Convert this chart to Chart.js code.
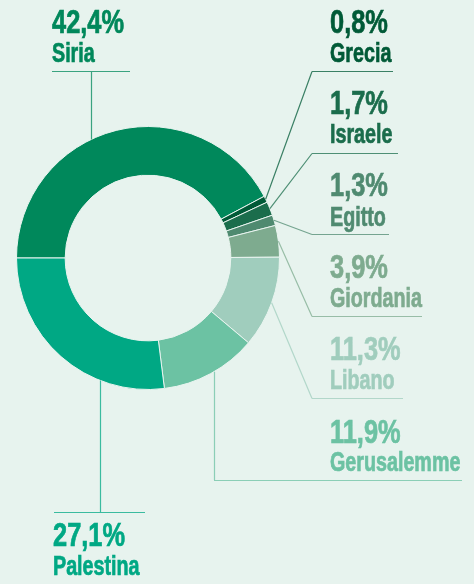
<!DOCTYPE html>
<html>
<head>
<meta charset="utf-8">
<script src="https://cdn.jsdelivr.net/npm/chart.js@4/dist/chart.umd.min.js"></script>
<style>
  html, body { margin: 0; padding: 0; background: #e7f3ee; }
  #chart { display: block; }
</style>
</head>
<body>
<canvas id="chart" width="474" height="584"></canvas>
<script>
const countries = ['Siria', 'Grecia', 'Israele', 'Egitto', 'Giordania', 'Libano', 'Gerusalemme', 'Palestina']
const shares = [42.4, 0.8, 1.7, 1.3, 3.9, 11.3, 11.9, 27.1]
const colors = ['#00885b', '#005a37', '#1b6d4c', '#4f8a70', '#7eab8f', '#a0cdbd', '#6cc2a3', '#00a884']

const bg = '#e7f3ee'

// where each label sits and how its leader reaches the ring
// kind: 'down' / 'up' = vertical stem at stemX, 'slant' = diagonal from the rule's left end
const labelLayout = [
    { x: 52,  pctY: 33,  nameY: 62,  ruleY: 71,  ruleX0: 52,  ruleX1: 130, kind: 'down', stemX: 91 },
    { x: 330, pctY: 33,  nameY: 62,  ruleY: 71,  ruleX0: 312, ruleX1: 393, kind: 'slant' },
    { x: 330, pctY: 114, nameY: 143, ruleY: 153, ruleX0: 312, ruleX1: 398, kind: 'slant' },
    { x: 330, pctY: 196, nameY: 226, ruleY: 234, ruleX0: 312, ruleX1: 389, kind: 'slant' },
    { x: 330, pctY: 278, nameY: 307, ruleY: 316, ruleX0: 312, ruleX1: 422, kind: 'slant' },
    { x: 330, pctY: 360, nameY: 389, ruleY: 398, ruleX0: 312, ruleX1: 403, kind: 'slant' },
    { x: 330, pctY: 443, nameY: 471, ruleY: 480, ruleX0: 214, ruleX1: 462, kind: 'up', stemX: 214 },
    { x: 53,  pctY: 546, nameY: 575, ruleY: 512, ruleX0: 54,  ruleX1: 145, kind: 'up', stemX: 100 }
]

function formatShare(v) {
    return v.toFixed(1).replace('.', ',') + '%'
}

// condensed, slightly heavier text
function drawNarrow(ctx, text, x, y, sx) {
    ctx.save()
    ctx.translate(x, y)
    ctx.scale(sx, 1)
    ctx.fillText(text, 0, 0)
    ctx.lineWidth = 0.7
    ctx.strokeText(text, 0, 0)
    ctx.restore()
}

const labelsPlugin = {
    id: 'sideLabels',
    afterDatasetsDraw(chart) {
        const ctx = chart.ctx
        const arcs = chart.getDatasetMeta(0).data
        ctx.save()

        arcs.forEach((arc, i) => {
            const lay = labelLayout[i]
            const cx = arc.x, cy = arc.y, r = arc.outerRadius

            // rule under the label + leader to the ring
            ctx.save()
            ctx.globalAlpha = 0.75
            ctx.lineWidth = 1.2
            ctx.strokeStyle = colors[i]
            ctx.beginPath()
            ctx.moveTo(lay.ruleX0, lay.ruleY + 0.5)
            ctx.lineTo(lay.ruleX1, lay.ruleY + 0.5)
            if (lay.kind === 'slant') {
                const mid = (arc.startAngle + arc.endAngle) / 2
                ctx.moveTo(lay.ruleX0, lay.ruleY + 0.5)
                ctx.lineTo(cx + Math.cos(mid) * r, cy + Math.sin(mid) * r)
            } else {
                const dx = lay.stemX - cx
                const dy = Math.sqrt(Math.max(r * r - dx * dx, 0))
                const edgeY = lay.kind === 'down' ? cy - dy : cy + dy
                ctx.moveTo(lay.stemX + 0.5, lay.ruleY)
                ctx.lineTo(lay.stemX + 0.5, edgeY)
            }
            ctx.stroke()
            ctx.restore()

            // percentage and name
            ctx.fillStyle = colors[i]
            ctx.strokeStyle = colors[i]
            ctx.textAlign = 'left'
            ctx.textBaseline = 'alphabetic'
            ctx.font = 'bold 33px "Liberation Sans", Arial, sans-serif'
            drawNarrow(ctx, formatShare(shares[i]), lay.x, lay.pctY, 0.77)
            ctx.font = 'bold 27px "Liberation Sans", Arial, sans-serif'
            drawNarrow(ctx, countries[i], lay.x, lay.nameY, 0.73)
        })
        ctx.restore()
    }
}

new Chart(document.getElementById('chart'), {
    type: 'doughnut',
    data: {
        labels: countries,
        datasets: [{
            data: shares,
            backgroundColor: colors,
            borderColor: bg,
            borderWidth: 1,
            hoverOffset: 0
        }]
    },
    options: {
        responsive: false,
        animation: false,
        events: [],
        rotation: 270,
        cutout: '63%',
        layout: {
            padding: { left: 16, top: 126, right: 194, bottom: 194 }
        },
        plugins: {
            legend: { display: false },
            tooltip: { enabled: false }
        }
    },
    plugins: [labelsPlugin]
})
</script>
</body>
</html>
